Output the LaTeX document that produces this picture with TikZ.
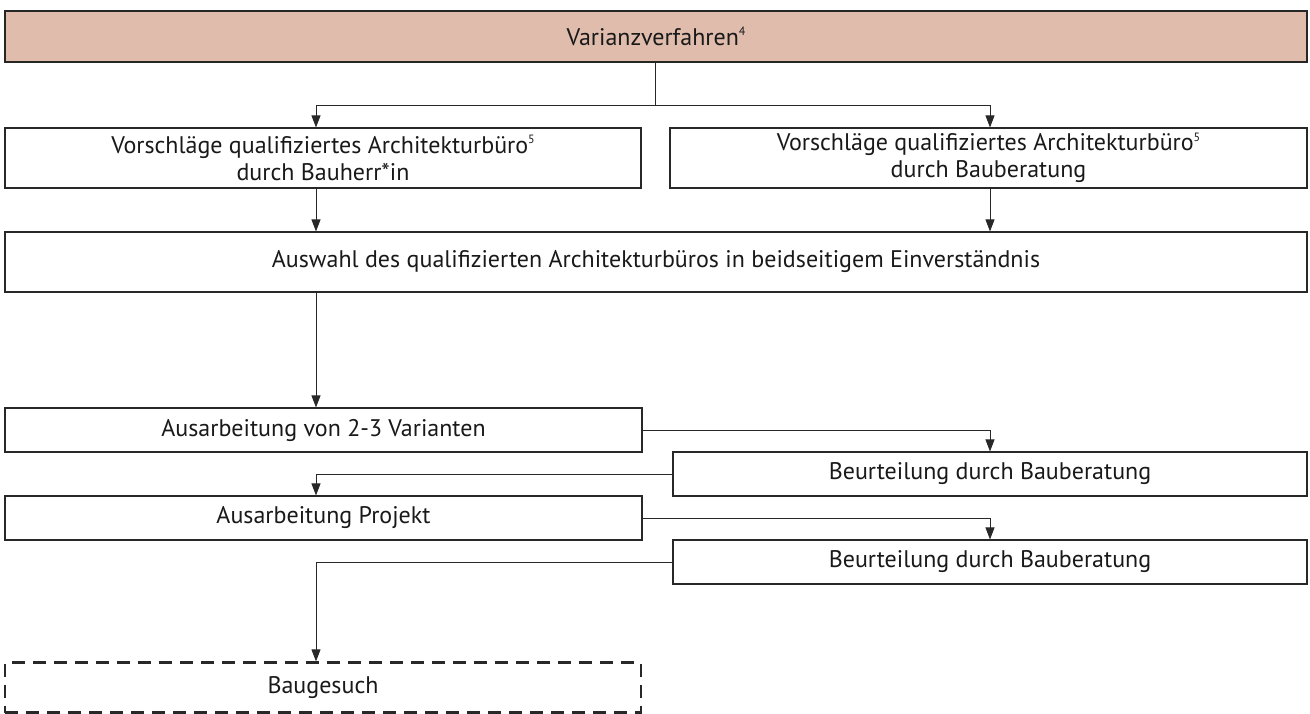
\documentclass[tikz,border=0pt]{standalone}
\usepackage{fontspec}
\setmainfont{PT Sans}
\usetikzlibrary{arrows.meta,calc}
\definecolor{topfill}{RGB}{224,188,173}
\definecolor{ln}{RGB}{40,40,40}
\newcommand{\fnsup}[1]{\raisebox{0.8ex}{\fontsize{12}{12}\selectfont #1}}
\begin{document}
\begin{tikzpicture}[x=1pt,y=-1pt,
  box/.style={draw=ln,line width=1.1pt,inner sep=0pt,align=center,
    font=\fontsize{24}{27}\selectfont, text=black!90},
  topbox/.style={box,fill=topfill,line width=2.8pt,draw=black!85},
  dashbox/.style={box,dash pattern=on 13pt off 8pt,line width=2.2pt},
  arr/.style={draw=ln,line width=0.9pt,-{Triangle[length=12pt,width=9pt]}},
  con/.style={draw=ln,line width=0.9pt}]
\useasboundingbox (0,0) rectangle (1310,713);
\coordinate (cL) at (316,0);
\coordinate (cR) at (990,0);
\node[topbox,minimum width=1302pt,minimum height=51pt] (top) at (656,36.5) {Varianzverfahren\fnsup{4}};
\node[box,minimum width=636pt,minimum height=60pt] (b2a) at (323,158) {Vorschläge qualifiziertes Architekturbüro\fnsup{5}\\durch Bauherr*in};
\node[box,minimum width=637pt,minimum height=60pt] (b2b) at (988.5,158) {Vorschläge qualifiziertes Architekturbüro\fnsup{5}\\durch Bauberatung};
\node[box,minimum width=1302pt,minimum height=60pt] (b3) at (656,262) {Auswahl des qualifizierten Architekturbüros in beidseitigem Einverständnis};
\node[box,minimum width=637pt,minimum height=44pt] (b4) at (323.5,430) {Ausarbeitung von 2-3 Varianten};
\node[box,minimum width=634pt,minimum height=44pt] (b5) at (990,474) {Beurteilung durch Bauberatung};
\node[box,minimum width=637pt,minimum height=44pt] (b6) at (323.5,518) {Ausarbeitung Projekt};
\node[box,minimum width=634pt,minimum height=44pt] (b7) at (990,562) {Beurteilung durch Bauberatung};
\node[dashbox,minimum width=636pt,minimum height=50pt] (b8) at (323,687.5) {Baugesuch};
\coordinate (br) at (655,105);
\draw[con] (top.south -| br) -- (br);
\draw[arr] (br) -| (cL |- b2a.north);
\draw[arr] (br) -| (cR |- b2b.north);
\draw[arr] (cL |- b2a.south) -- (cL |- b3.north);
\draw[arr] (cR |- b2b.south) -- (cR |- b3.north);
\draw[arr] (cL |- b3.south) -- (cL |- b4.north);
\draw[arr] (b4.east) -| (cR |- b5.north);
\draw[arr] (b5.west) -| (cL |- b6.north);
\draw[arr] (b6.east) -| (cR |- b7.north);
\draw[arr] (b7.west) -| (cL |- b8.north);
\end{tikzpicture}
\end{document}
